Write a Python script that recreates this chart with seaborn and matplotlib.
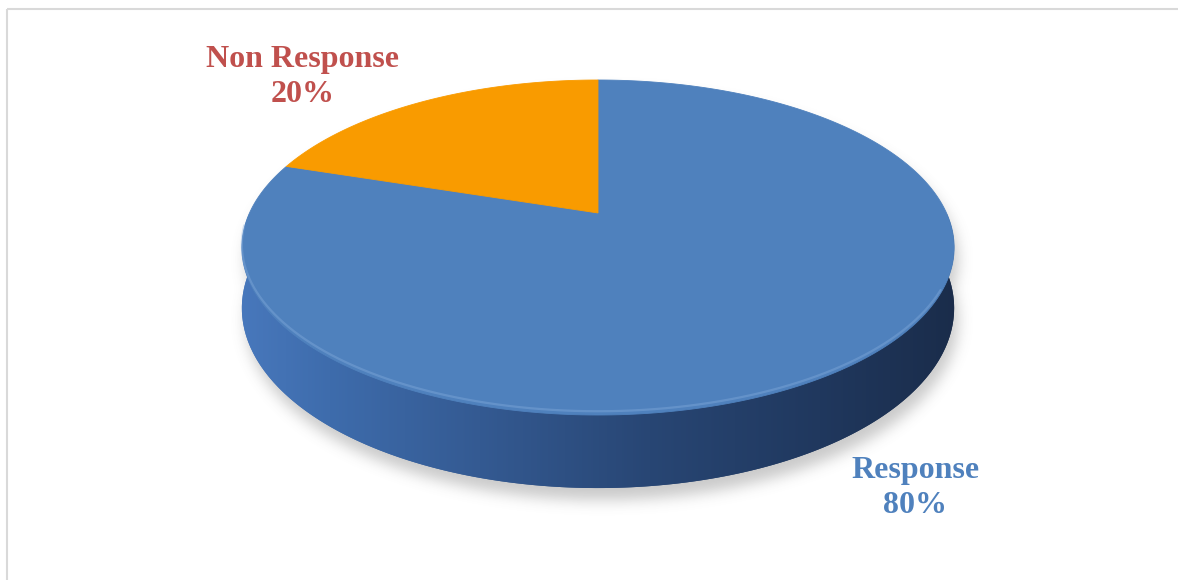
import numpy as np
import matplotlib
matplotlib.use("Agg")
import matplotlib.pyplot as plt
from matplotlib.path import Path
from matplotlib.patches import PathPatch, Rectangle
import seaborn as sns

# Survey response split
categories = ["Response", "Non Response"]
values = [80, 20]
slice_colors = ["#4F81BD", "#F99B00"]
label_colors = ["#4F81BD", "#C0504D"]

sns.set_theme(style="white")
plt.rcParams["font.family"] = ["Liberation Serif", "DejaVu Serif"]

W, H = 1178, 580
fig = plt.figure(figsize=(W / 100, H / 100), dpi=100)
ax = fig.add_axes([0, 0, 1, 1])
ax.set_xlim(0, W)
ax.set_ylim(H, 0)
ax.axis("off")

# Perspective disc geometry (screen pixels)
X0, Y0 = 598.0, 213.0
A, B, K = 348.5, 160.4, 0.206
DEPTH = 58.0


def proj(theta, drop=0.0):
    u, v = np.cos(theta), np.sin(theta)
    d = 1 + K * v
    return X0 + A * u / d, Y0 - B * v / d + drop / d


def ellipse(drop=0.0, n=400):
    t = np.linspace(0, 2 * np.pi, n)
    x, y = proj(t, drop)
    return np.column_stack([x, y])


# Side band of the cylinder (front half)
t_front = np.linspace(np.pi, 2 * np.pi, 300)
tx, ty = proj(t_front)
bx, by = proj(t_front, DEPTH)
band = np.vstack([np.column_stack([tx, ty]), np.column_stack([bx, by])[::-1]])
bottom = ellipse(DEPTH)
top = ellipse()

# Soft drop shadow
yy, xx = np.mgrid[0:H, 0:W]
pts = np.column_stack([xx.ravel() + 0.5, yy.ravel() + 0.5])
mask = np.zeros(H * W, dtype=float)
for poly in (band, bottom, top):
    mask = np.maximum(mask, Path(poly + np.array([4.0, 12.0])).contains_points(pts))
mask = mask.reshape(H, W)
sig = 7.0
kx = np.arange(-3 * int(sig), 3 * int(sig) + 1)
kern = np.exp(-kx ** 2 / (2 * sig ** 2))
kern /= kern.sum()
mask = np.apply_along_axis(lambda r: np.convolve(r, kern, mode="same"), 1, mask)
mask = np.apply_along_axis(lambda c: np.convolve(c, kern, mode="same"), 0, mask)
shadow = np.zeros((H, W, 4))
shadow[..., :3] = 0.35
shadow[..., 3] = mask * 0.32
ax.imshow(shadow, extent=(0, W, H, 0), zorder=1, interpolation="bilinear")

# Side wall with horizontal shading gradient
stops_x = np.array([240, 330, 480, 650, 820, 960])
stops_c = np.array([
    [72, 120, 188],
    [62, 108, 172],
    [52, 90, 146],
    [40, 70, 116],
    [32, 56, 94],
    [26, 44, 74],
]) / 255.0
gx = np.linspace(230, 970, 600)
grad = np.stack([np.interp(gx, stops_x, stops_c[:, i]) for i in range(3)], axis=-1)
grad = np.repeat(grad[None, :, :], 2, axis=0)
for poly in (bottom, band):
    p = PathPatch(Path(poly), facecolor="none", edgecolor="none")
    ax.add_patch(p)
    im = ax.imshow(grad, extent=(230, 970, 500, 80), aspect="auto", zorder=2,
                   interpolation="bilinear")
    im.set_clip_path(p)

# Top face wedges, starting at 12 o'clock and running clockwise
total = float(sum(values))
start = np.pi / 2
for cat, val, col in zip(categories, values, slice_colors):
    sweep = 2 * np.pi * val / total
    t = np.linspace(start, start - sweep, 300)
    x, y = proj(t)
    poly = np.vstack([[X0, Y0], np.column_stack([x, y]), [X0, Y0]])
    ax.add_patch(PathPatch(Path(poly), facecolor=col, edgecolor=col, lw=0.6, zorder=3))
    start -= sweep

# Bevel highlight along the front rim
t_rim = np.linspace(np.pi * 1.03, np.pi * 1.85, 200)
rx, ry = proj(t_rim, -3)
ax.plot(rx, ry, color="#8DB3E2", lw=1.6, alpha=0.35, zorder=4, solid_capstyle="round")

# Data labels
label_pos = {"Response": (915, 488), "Non Response": (303, 77)}
for cat, val, lc in zip(categories, values, label_colors):
    px, py = label_pos[cat]
    ax.text(px, py, f"{cat}\n{round(100 * val / total)}%", ha="center", va="center",
            fontsize=23, fontweight="bold", color=lc, linespacing=1.25, zorder=5)

# Chart area frame
ax.add_patch(Rectangle((6.5, 8.5), W + 20, H + 20, facecolor="none",
                       edgecolor="#D9D9D9", lw=1.5, zorder=6))

fig.savefig("out.png", dpi=100)
